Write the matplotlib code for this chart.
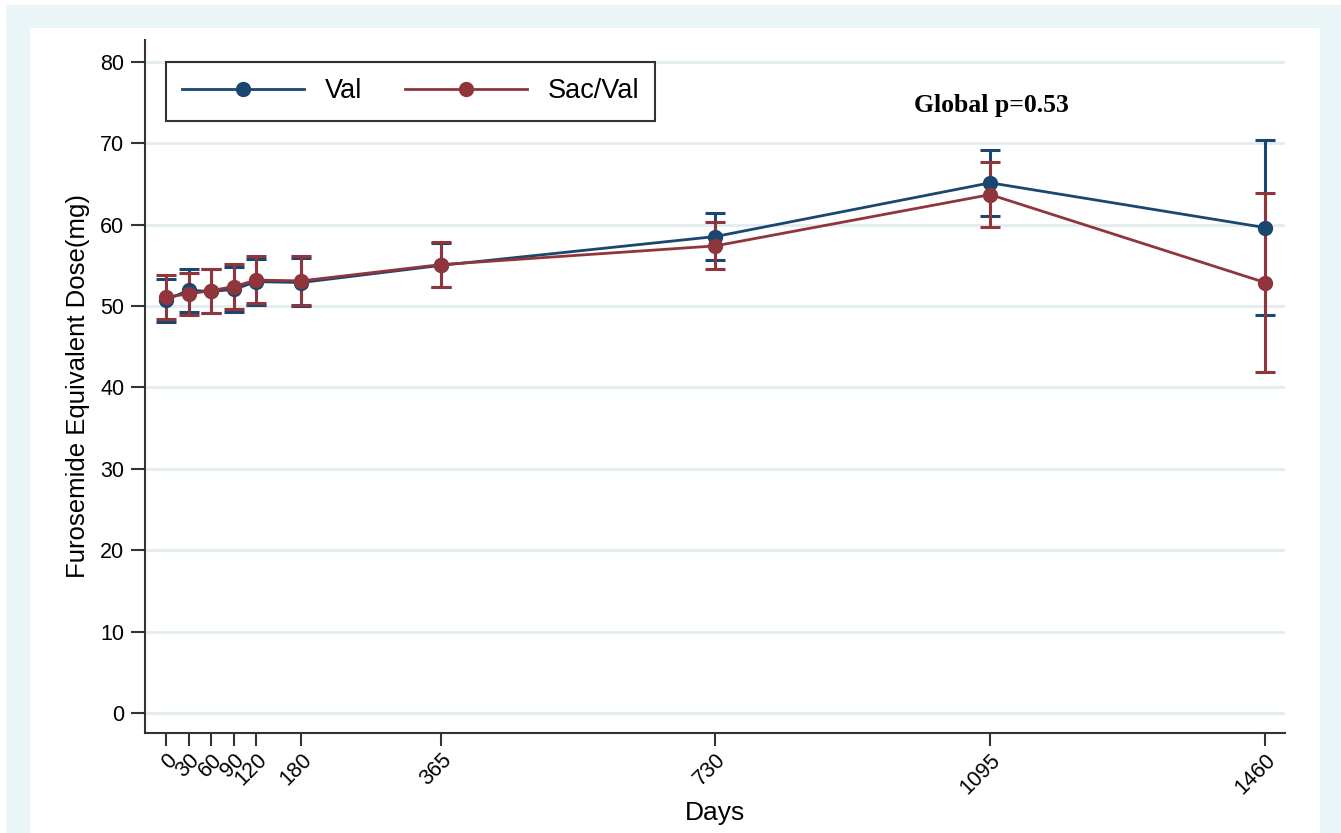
import numpy as np
import matplotlib.pyplot as plt
from matplotlib.patches import Rectangle
from matplotlib.lines import Line2D

days = [0, 30, 60, 90, 120, 180, 365, 730, 1095, 1460]
day_labels = ['0', '30', '60', '90', '120', '180', '365', '730', '1095', '1460']

# Val group: mean and 95% CI bounds
val_mean = [50.75, 51.95, 51.8, 52.05, 53.0, 52.9, 55.0, 58.55, 65.15, 59.65]
val_lo = [48.1, 49.3, 49.2, 49.3, 50.1, 50.0, 52.3, 55.7, 61.1, 48.9]
val_hi = [53.3, 54.6, 54.5, 54.8, 55.8, 55.9, 57.8, 61.4, 69.2, 70.4]

# Sac/Val group
sac_mean = [51.1, 51.5, 51.9, 52.4, 53.2, 53.1, 55.1, 57.4, 63.7, 52.9]
sac_lo = [48.4, 48.9, 49.2, 49.6, 50.4, 50.1, 52.3, 54.5, 59.7, 41.9]
sac_hi = [53.8, 54.1, 54.6, 55.2, 56.1, 56.1, 57.9, 60.3, 67.75, 63.95]

yticks = [0, 10, 20, 30, 40, 50, 60, 70, 80]

blue = '#1a476f'
red = '#90353b'

plt.rcParams['font.family'] = ['Liberation Sans', 'DejaVu Sans']

fig = plt.figure(figsize=(13.41, 8.33), dpi=100)
fig.patch.set_facecolor('white')
W, H = 1341, 833
# light blue frame and white panel
fig.patches.append(Rectangle((6 / W, 0), (1341 - 6) / W, (833 - 5) / H,
                             transform=fig.transFigure, facecolor='#eaf5f8',
                             edgecolor='none', zorder=-2))
fig.patches.append(Rectangle((30 / W, 0), (1320 - 30) / W, (833 - 28) / H,
                             transform=fig.transFigure, facecolor='white',
                             edgecolor='none', zorder=-1))

ax = fig.add_axes([145 / W, 1 - 733 / H, (1285 - 145) / W, (733 - 40) / H])
ax.set_facecolor('none')


def draw(mean, lo, hi, color):
	mean = np.array(mean)
	yerr = [mean - np.array(lo), np.array(hi) - mean]
	ax.errorbar(days, mean, yerr=yerr, color=color, ecolor=color, lw=2,
				elinewidth=2.2, capsize=7, capthick=2.2, marker='o',
				markersize=10)


draw(val_mean, val_lo, val_hi, blue)
draw(sac_mean, sac_lo, sac_hi, red)

ax.set_xlim(-27.9, 1486.6)
ax.set_ylim(-2.46, 82.7)
ax.set_yticks(yticks)
ax.set_xticks(days)
ax.set_xticklabels(day_labels, rotation=45, ha='right', rotation_mode='anchor')
ax.grid(axis='y', color='#e2ecef', lw=2)
ax.set_axisbelow(True)
for s in ['top', 'right']:
	ax.spines[s].set_visible(False)
for s in ['left', 'bottom']:
	ax.spines[s].set_color('#333333')
	ax.spines[s].set_linewidth(1.5)
ax.tick_params(axis='y', length=10, width=1.5, color='#333333', labelsize=15.5, pad=5)
ax.tick_params(axis='x', length=9, width=1.5, color='#333333', labelsize=15.5, pad=3)

ax.set_ylabel('Furosemide Equivalent Dose(mg)', fontsize=18.5, labelpad=7)
ax.set_xlabel('Days', fontsize=19, labelpad=2)

ax.text(1097, 74.6, 'Global p=0.53', family='Liberation Serif', weight='bold',
		fontsize=18.5, ha='center', va='center')

handles = [Line2D([], [], color=blue, lw=2, marker='o', markersize=10),
		   Line2D([], [], color=red, lw=2, marker='o', markersize=10)]
leg = ax.legend(handles, ['Val', 'Sac/Val'], loc='upper left',
				bbox_to_anchor=(0.0184, 0.968), ncol=2,
				frameon=True, fancybox=False, edgecolor='black', fontsize=19.5,
				handlelength=4.5, handletextpad=0.75, columnspacing=1.6,
				borderpad=0.6, borderaxespad=0)
leg.get_frame().set_linewidth(1.5)

fig.savefig('out.png', dpi=100)
